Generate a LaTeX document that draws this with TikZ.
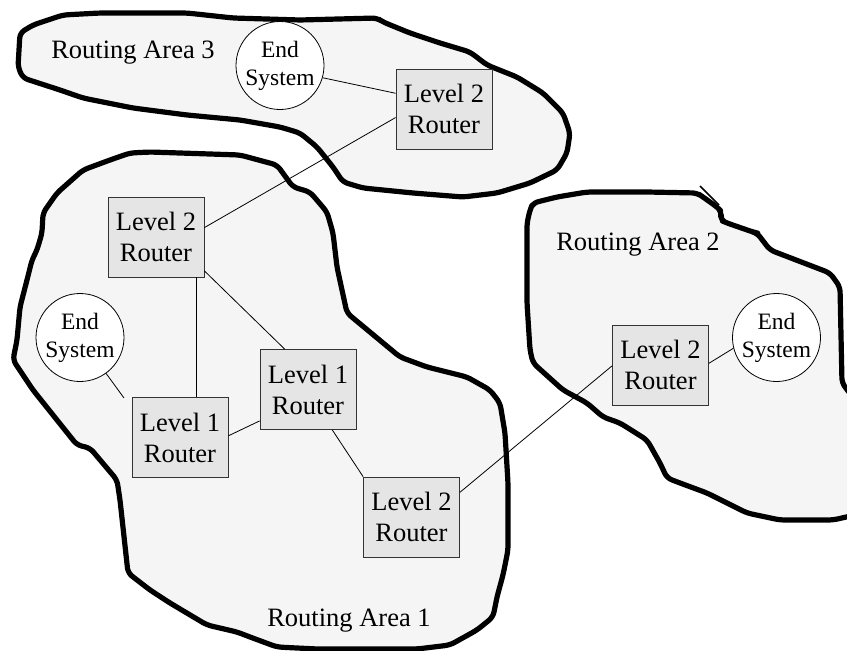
\documentclass[tikz,border=0pt]{standalone}
\usepackage{fontspec}
\setmainfont{Liberation Serif}
\usepackage{tikz}

\begin{document}
\begin{tikzpicture}[
    x=1pt, y=-1pt,
    area/.style={draw=black, fill=black!4, line width=5.2pt, rounded corners=5pt, line join=round},
    router/.style={draw=black!80, fill=black!10, line width=0.8pt, minimum width=96pt,
      minimum height=80pt, inner sep=0pt, align=center,
      font=\fontsize{26.5}{31}\selectfont},
    endsys/.style={circle, draw=black, fill=white, line width=0.8pt, minimum size=88pt,
      inner sep=0pt, align=center, font=\fontsize{23.5}{28}\selectfont},
    link/.style={line width=0.8pt},
    arealbl/.style={font=\fontsize{26.5}{31}\selectfont}
  ]

  \useasboundingbox (0,0) rectangle (847,651);

  %% ---- Routing areas (hand drawn outlines) ----
  % Routing Area 3, top
  \draw[area] (20,33) -- (33,25) -- (63,15) -- (100,13) -- (187,13) -- (233,18)
    -- (300,20) -- (377,18) -- (383,22) -- (410,33) -- (440,43) -- (470,52)
    -- (487,65) -- (517,77) -- (543,93) -- (563,113) -- (570,133) -- (567,153)
    -- (557,170) -- (530,183) -- (497,193) -- (463,197) -- (413,193) -- (363,188)
    -- (343,182) -- (333,167) -- (317,147) -- (300,133) -- (280,127) -- (240,120)
    -- (187,115) -- (133,108) -- (83,98) -- (60,90) -- (23,78) -- (18,67) -- cycle;

  % Routing Area 1, left
  \draw[area] (130,153) -- (150,152) -- (240,155) -- (277,165) -- (293,187)
    -- (310,192) -- (327,212) -- (333,233) -- (337,267) -- (347,313) -- (400,357)
    -- (427,367) -- (467,377) -- (490,390) -- (500,403) -- (505,433) -- (508,483)
    -- (508,550) -- (503,575) -- (497,597) -- (493,617) -- (477,630) -- (450,645)
    -- (417,649) -- (317,649) -- (277,647) -- (250,637) -- (237,632) -- (207,625)
    -- (170,603) -- (150,590) -- (128,573) -- (120,500) -- (117,480) -- (90,448)
    -- (77,445) -- (33,390) -- (13,360) -- (17,340) -- (20,307) -- (27,280)
    -- (32,260) -- (37,250) -- (42,233) -- (43,213) -- (57,193) -- (83,170)
    -- (110,160) -- cycle;

  % Routing Area 2, right
  \draw[area] (530,210) -- (533,203) -- (557,197) -- (587,192) -- (647,192)
    -- (697,193) -- (703,197) -- (717,207) -- (722,212) -- (720,220) -- (727,223)
    -- (753,232) -- (757,233) -- (770,250) -- (830,273) -- (840,287) -- (842,383)
    -- (855,400) -- (855,515) -- (833,520) -- (780,520) -- (747,513) -- (707,493)
    -- (680,483) -- (667,478) -- (660,463) -- (647,440) -- (620,423) -- (603,417)
    -- (587,403) -- (563,390) -- (533,363) -- (530,350) -- (527,303) -- (527,223)
    -- cycle;
  % pen slip on the outline
  \draw[line width=1.5pt] (700,186) -- (719,205);

  % Area labels
  \node[arealbl] (area3lbl) at (133,53) {Routing Area 3};
  \node[arealbl] (area2lbl) at (638,245) {Routing Area 2};
  \node[arealbl] (area1lbl) at (349,621) {Routing Area 1};

  %% ---- Routers and end systems ----
  \node[endsys] (es3) at (280,65.5) {End\\System};
  \node[router] (l2c) at (444,109) {Level 2\\Router};

  \node[router] (l2a) at (156,237) {Level 2\\Router};
  \node[endsys] (es1) at (80,337.5) {End\\System};
  \node[router] (l1a) at (180,437.5) {Level 1\\Router};
  \node[router] (l1b) at (308,389.5) {Level 1\\Router};
  \node[router] (l2b) at (411.5,517) {Level 2\\Router};

  \node[router] (l2d) at (660.5,365) {Level 2\\Router};
  \node[endsys] (es2) at (776.5,337.5) {End\\System};

  %% ---- Links ----
  \draw[link] (es3.344) -- (l2c.162);
  \draw[link] (l2c.190) -- (l2a.11);
  \draw[link] ([xshift=-8pt]l2a.south east) -- ([xshift=-8pt]l2a.south east |- l1a.north);
  \draw[link] (l2a.325) -- (l1b.120);
  % end system link stops short of the router
  \coordinate (es1end) at (124,398);
  \draw[link] (es1.306) -- (es1end);
  \draw[link] (l1a.2) -- (l1b.213);
  \draw[link] (l1b.301) -- (l2b.north west);
  \draw[link] (l2b.27) -- (l2d.181);
  \draw[link] (l2d.2) -- (es2.194);

\end{tikzpicture}
\end{document}
